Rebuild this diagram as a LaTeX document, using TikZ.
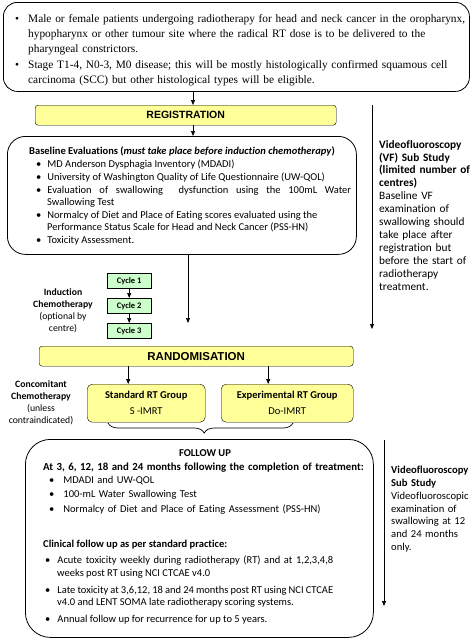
\documentclass[tikz,border=0pt]{standalone}
\usepackage{fontspec}
\setmainfont{Carlito}[Ligatures=NoCommon]
\newfontfamily\cambriafont{Liberation Serif}
\newfontfamily\arialfont{Liberation Sans}
\usetikzlibrary{arrows.meta,decorations.pathreplacing}

\definecolor{boxyellow}{HTML}{FFFF99}
\definecolor{cyclegreen}{HTML}{CCFFCC}

\newenvironment{dotlist}[4]{\begin{list}{\textbullet}{%
  \setlength{\leftmargin}{#1}\setlength{\labelsep}{#2}%
  \setlength{\labelwidth}{5pt}\setlength{\itemsep}{#3}%
  \setlength{\rightmargin}{#4}\setlength{\parsep}{0pt}%
  \setlength{\topsep}{0pt}\setlength{\partopsep}{0pt}%
  \setlength{\itemindent}{0pt}}}{\end{list}}

\tikzset{
  bigbox/.style={draw, rounded corners=#1, line width=0.8pt, inner sep=0pt, anchor=north west},
  bar/.style={draw, rounded corners=3pt, fill=boxyellow, inner sep=0pt, anchor=north west, font=\arialfont\bfseries},
  cyclebox/.style={draw, fill=cyclegreen, anchor=north west, minimum width=44pt, minimum height=15pt, inner sep=0pt, font=\bfseries\fontsize{8.5}{10}\selectfont},
  groupbox/.style={draw, rounded corners=5pt, fill=boxyellow, anchor=north west, minimum height=38pt, inner sep=0pt, align=center, font=\fontsize{10.5}{16}\selectfont},
  txt/.style={anchor=north west, inner sep=0pt, text width=#1},
  sidelabel/.style={align=center, inner sep=0pt, font=\fontsize{9.7}{12}\selectfont},
  arr/.style={-{Triangle[length=5pt,width=4pt]}, line width=0.7pt},
}

\begin{document}
\begin{tikzpicture}[x=1pt, y=-1pt]
\useasboundingbox (0,0) rectangle (473,643);

\node[bigbox=14pt, minimum width=466pt, minimum height=89pt] (topbox) at (3,2) {};
\node[txt=460pt, align=left, font=\cambriafont\fontsize{11.35}{14.7}\selectfont] (toptext) at (9,8) {%
\begin{dotlist}{19pt}{9pt}{1.5pt}{0pt}
\item Male or female patients undergoing radiotherapy for head and neck cancer in the oropharynx,\\ hypopharynx or other tumour site where the radical RT dose is to be delivered to the\\ pharyngeal constrictors.
\item Stage T1-4, N0-3, M0 disease; this will be mostly histologically confirmed squamous cell\\ carcinoma (SCC) but other histological types will be eligible.
\end{dotlist}};

\node[bar, minimum width=301pt, minimum height=20pt, font=\arialfont\bfseries\fontsize{10.5}{12}\selectfont] (regbox) at (35,105) {REGISTRATION};

\node[bigbox=18pt, minimum width=349pt, minimum height=118pt] (basebox) at (7,136) {};
\node[txt=322pt, align=justify, font=\fontsize{10.5}{12.3}\selectfont] (basetext) at (29,147) {%
\noindent\textbf{Baseline Evaluations (\textit{must take place before induction chemotherapy})}
\begin{dotlist}{18pt}{6pt}{0.6pt}{0pt}
\item MD Anderson Dysphagia Inventory (MDADI)
\item University of Washington Quality of Life Questionnaire (UW-QOL)
\item Evaluation of swallowing\ \ dysfunction using the 100mL Water\linebreak Swallowing Test
\item Normalcy of Diet and Place of Eating scores evaluated using the\\ Performance Status Scale for Head and Neck Cancer (PSS-HN)
\item Toxicity Assessment.
\end{dotlist}};

\node[txt=110pt, align=left, font=\fontsize{11.3}{12.9}\selectfont] (vftext) at (379,140) {%
\textbf{Videofluoroscopy\\(VF) Sub Study\\(limited number of\\centres)}\\Baseline VF\\examination of\\swallowing should\\take place after\\registration but\\before the start of\\radiotherapy\\treatment.};

\node[cyclebox] (cyc1) at (107,273) {Cycle 1};
\node[cyclebox] (cyc2) at (107,298) {Cycle 2};
\node[cyclebox] (cyc3) at (107,323) {Cycle 3};
\node[sidelabel] (induct) at (63,311) {\textbf{Induction}\\\textbf{Chemotherapy}\\(optional by\\centre)};

\node[bar, minimum width=314pt, minimum height=20pt, font=\arialfont\bfseries\fontsize{11.5}{13}\selectfont] (randbox) at (39,346) {RANDOMISATION};

\node[groupbox, minimum width=118pt] (stdbox) at (87,384) {\textbf{Standard RT Group}\\S -IMRT};
\node[groupbox, minimum width=132pt] (expbox) at (221,384) {\textbf{Experimental RT Group}\\Do-IMRT};
\node[sidelabel] (concom) at (41,403) {\textbf{Concomitant}\\\textbf{Chemotherapy}\\(unless\\contraindicated)};

\node[bigbox=25pt, minimum width=348pt, minimum height=198pt] (fubox) at (25,439) {};
\node[font=\bfseries\fontsize{10.5}{12}\selectfont, anchor=base] (futitle) at (205,456) {FOLLOW UP};
\node[txt=330pt, align=left, font=\fontsize{10.5}{12.6}\selectfont] (futext) at (43,463) {%
\noindent\mbox{\bfseries\fontsize{10.8}{12.6}\selectfont At 3, 6, 12, 18 and 24 months following the completion of treatment:}
\begin{dotlist}{20pt}{9pt}{1.8pt}{0pt}
\item MDADI and UW-QOL
\item 100-mL Water Swallowing Test
\item Normalcy of Diet and Place of Eating Assessment (PSS-HN)
\end{dotlist}};
\node[txt=322pt, align=justify, font=\fontsize{10.5}{12.9}\selectfont] (clintext) at (43,540) {%
\noindent\textbf{Clinical follow up as per standard practice:}\par\vspace{3pt}
\begin{dotlist}{14pt}{7pt}{3.8pt}{32pt}
\item Acute toxicity weekly during radiotherapy (RT) and at 1,2,3,4,8\linebreak weeks post RT using NCI CTCAE v4.0
\item Late toxicity at 3,6,12, 18 and 24 months post RT using NCI CTCAE\linebreak v4.0 and LENT SOMA late radiotherapy scoring systems.
\item Annual follow up for recurrence for up to 5 years.
\end{dotlist}};

\node[txt=110pt, align=left, font=\fontsize{10.6}{12.8}\selectfont] (vfftext) at (391,466) {%
\textbf{Videofluoroscopy\\Sub Study}\\Videofluoroscopic\\examination of\\swallowing at 12\\and 24 months\\only.};

\coordinate (ax) at (193,0);
\coordinate (ichemo) at (188,323);
\coordinate (vfa) at (372,105);
\coordinate (vfb) at (372,329);
\coordinate (vfc) at (384,440);
\coordinate (vfd) at (384,606);
\coordinate (brl) at (108,423);
\coordinate (brr) at (293,423);

\draw[arr](topbox.south -| ax) -- (regbox.north -| ax);
\draw[arr](regbox.south -| ax) -- (basebox.north -| ax);
\draw[arr](basebox.south -| ichemo) -- (ichemo);
\draw[arr](cyc1) -- (cyc2);
\draw[arr](cyc2) -- (cyc3);
\draw[arr]([xshift=-18pt]stdbox.north |- randbox.south) -- ([xshift=-18pt]stdbox.north);
\draw[arr]([xshift=-19pt]expbox.north |- randbox.south) -- ([xshift=-19pt]expbox.north);
\draw[arr](vfa) -- (vfb);
\draw[arr](vfc) -- (vfd);
\draw[decorate, decoration={brace, amplitude=10pt, mirror, aspect=0.52}, line width=0.7pt](brl) -- (brr);
\end{tikzpicture}
\end{document}
